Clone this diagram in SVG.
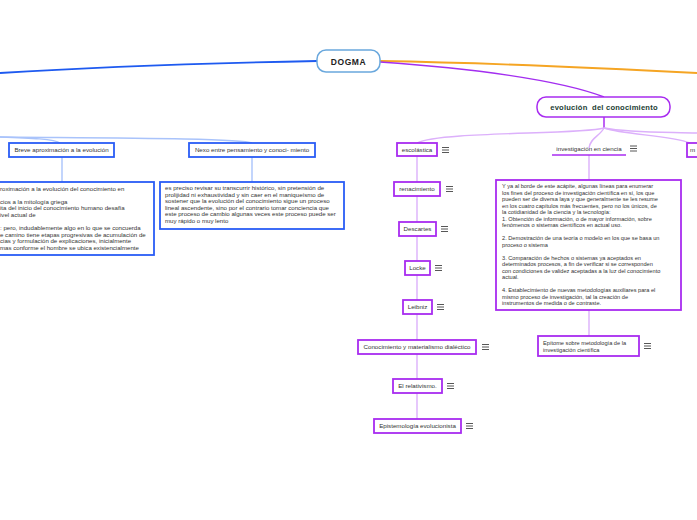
<svg xmlns="http://www.w3.org/2000/svg" width="697" height="520" viewBox="0 0 697 520">
<defs>
<style>
text{font-family:"Liberation Sans",Arial,sans-serif;fill:#333}
.lbl{font-size:6.2px;text-anchor:middle}
.body{font-size:5.65px}
.bbody{font-size:6.1px}
.pbox{fill:#fff;stroke:#a82cf0;stroke-width:1.8}
.bbox{fill:#fff;stroke:#2a5cf5;stroke-width:1.8}
.chain{fill:none;stroke:#dcb0fb;stroke-width:1.4}
.bchain{fill:none;stroke:#a9c3fb;stroke-width:1.4}
</style>
<g id="menu">
<line x1="0" y1="0" x2="7" y2="0" stroke="#444" stroke-width="0.9"/>
<line x1="0" y1="2.5" x2="7" y2="2.5" stroke="#444" stroke-width="0.9"/>
<line x1="0" y1="5" x2="7" y2="5" stroke="#444" stroke-width="0.9"/>
</g>
</defs>
<rect width="697" height="520" fill="#fff"/>

<g id="connectors">
<path d="M317,61 C220,63 80,68 0,73" fill="none" stroke="#1e5af0" stroke-width="1.8"/>
<path d="M380,61 C500,63 640,70 697,73" fill="none" stroke="#f5a524" stroke-width="1.8"/>
<path d="M380,62 C470,68 560,80 604,97" fill="none" stroke="#a32ef0" stroke-width="1.5"/>
<path d="M604,117 L604,129" fill="none" stroke="#a82cf0" stroke-width="1.5"/>
<path d="M604,128 C580,135 440,131 417,143" class="chain"/>
<path d="M604,128 C600,136 590,138 589,148" class="chain"/>
<path d="M604,128 C625,135 670,135 690,143" class="chain"/>
<path d="M604,128 C630,133 670,132 697,133" class="chain"/>
<path d="M417,156 L417,419" class="chain"/>
<path d="M589,155 L589,336" class="chain"/>
<path d="M0,137 C30,138 55,139 60,143" class="bchain"/>
<path d="M0,137 C100,138 240,138 252,143" class="bchain"/>
<path d="M62,157 L62,182" class="bchain"/>
<path d="M252,157 L252,182" class="bchain"/>
</g>

<g id="dogma">
<rect x="317" y="50" width="63" height="22" rx="9" fill="#fff" stroke="#6aa8dd" stroke-width="1.5"/>
<text x="348.5" y="64.5" text-anchor="middle" font-size="8.5" font-weight="bold" letter-spacing="0.6" style="fill:#222">DOGMA</text>
</g>

<g id="evolucion">
<rect x="537" y="97" width="133" height="20" rx="9" fill="#fff" stroke="#a82cf0" stroke-width="1.5"/>
<text x="604" y="109.7" text-anchor="middle" font-size="7.6" font-weight="bold" letter-spacing="0.2" xml:space="preserve" style="fill:#1c3d33;white-space:pre">evolución  del conocimiento</text>
</g>

<g id="escolastica">
<rect class="pbox" x="397" y="143" width="40" height="13"/>
<text class="lbl" x="417" y="151.8">escolástica</text>
<use href="#menu" x="442" y="147.5"/>
</g>

<g id="investigacion">
<text class="lbl" x="589" y="151">investigación en ciencia</text>
<line x1="552" y1="155" x2="626" y2="155" stroke="#a82cf0" stroke-width="1.5"/>
<use href="#menu" x="630" y="146"/>
</g>

<g id="m-node">
<rect class="pbox" x="687" y="143" width="15" height="14"/>
<text x="690" y="152" font-size="6.2">m</text>
</g>

<g id="renacimiento">
<rect class="pbox" x="394" y="182" width="46" height="14"/>
<text class="lbl" x="417" y="191.2">renacimiento</text>
<use href="#menu" x="446" y="186.5"/>
</g>

<g id="descartes">
<rect class="pbox" x="399" y="222" width="37" height="14"/>
<text class="lbl" x="417.5" y="231.2">Descartes</text>
<use href="#menu" x="441" y="226.5"/>
</g>

<g id="locke">
<rect class="pbox" x="405" y="261" width="25" height="14"/>
<text class="lbl" x="417.5" y="270.2">Locke</text>
<use href="#menu" x="435" y="265.5"/>
</g>

<g id="leibniz">
<rect class="pbox" x="403" y="300" width="29" height="14"/>
<text class="lbl" x="417.5" y="309.2">Leibniz</text>
<use href="#menu" x="437" y="304.5"/>
</g>

<g id="materialismo">
<rect class="pbox" x="358" y="340" width="118" height="14"/>
<text class="lbl" x="417" y="349.2">Conocimiento y materialismo dialéctico</text>
<use href="#menu" x="482" y="344.5"/>
</g>

<g id="relativismo">
<rect class="pbox" x="393" y="379" width="49" height="14"/>
<text class="lbl" x="417.5" y="388.2">El relativismo.</text>
<use href="#menu" x="447" y="383.5"/>
</g>

<g id="epistemologia">
<rect class="pbox" x="374" y="419" width="87" height="14"/>
<text class="lbl" x="417.5" y="428.2">Epistemología evolucionista</text>
<use href="#menu" x="466" y="423.5"/>
</g>

<g id="investigacion-texto">
<rect class="pbox" x="496" y="180" width="185" height="130"/>
<text class="body">
<tspan x="502" y="188">Y ya al borde de este acápite, algunas líneas para enumerar</tspan>
<tspan x="502" y="194.5">los fines del proceso de investigación científica en sí, los que</tspan>
<tspan x="502" y="201">pueden ser de diversa laya y que generalmente se les resume</tspan>
<tspan x="502" y="207.5">en los cuatro capítulos más frecuentes, pero no los únicos, de</tspan>
<tspan x="502" y="214">la cotidianidad de la ciencia y la tecnología:</tspan>
<tspan x="502" y="220.5">1. Obtención de información, o de mayor información, sobre</tspan>
<tspan x="502" y="227">fenómenos o sistemas científicos en actual uso.</tspan>
<tspan x="502" y="240">2. Demostración de una teoría o modelo en los que se basa un</tspan>
<tspan x="502" y="246.5">proceso o sistema</tspan>
<tspan x="502" y="259.5">3. Comparación de hechos o sistemas ya aceptados en</tspan>
<tspan x="502" y="266">determinados procesos, a fin de verificar si se corresponden</tspan>
<tspan x="502" y="272.5">con condiciones de validez aceptadas a la luz del conocimiento</tspan>
<tspan x="502" y="279">actual.</tspan>
<tspan x="502" y="292">4. Establecimiento de nuevas metodologías auxiliares para el</tspan>
<tspan x="502" y="298.5">mismo proceso de investigación, tal la creación de</tspan>
<tspan x="502" y="305">instrumentos de medida o de contraste.</tspan>
</text>
</g>

<g id="epitome">
<rect class="pbox" x="538" y="336" width="101" height="20"/>
<text class="body">
<tspan x="543" y="344.5">Epítome sobre metodología de la</tspan>
<tspan x="543" y="351.5">investigación científica</tspan>
</text>
<use href="#menu" x="644" y="343.5"/>
</g>

<g id="breve">
<rect class="bbox" x="9" y="143" width="105" height="14"/>
<text class="lbl" x="61.5" y="152.2">Breve aproximación a la evolución</text>
</g>

<g id="nexo">
<rect class="bbox" x="189" y="143" width="126" height="14"/>
<text class="lbl" x="252" y="152.2">Nexo entre pensamiento y conoci- miento</text>
</g>

<g id="breve-texto">
<rect class="bbox" x="-5" y="182" width="159" height="73"/>
<text class="bbody">
<tspan x="0" y="190.5">roximación a la evolución del conocimiento en</tspan>
<tspan x="0" y="203.5">cios a la mitología griega</tspan>
<tspan x="0" y="210">ita del inicio del conocimiento humano desafía</tspan>
<tspan x="0" y="216.5">ivel actual de</tspan>
<tspan x="0" y="230">: pero, indudablemente algo en lo que se concuerda</tspan>
<tspan x="0" y="236.5">e camino tiene etapas progresivas de acumulación de</tspan>
<tspan x="0" y="243">cias y formulación de explicaciones, inicialmente</tspan>
<tspan x="0" y="249.5">mas conforme el hombre se ubica existencialmente</tspan>
</text>
</g>

<g id="nexo-texto">
<rect class="bbox" x="160" y="182" width="184" height="47"/>
<text class="bbody">
<tspan x="165" y="190">es preciso revisar su transcurrir histórico, sin pretensión de</tspan>
<tspan x="165" y="196.5">prolijidad ni exhaustividad y sin caer en el maniqueísmo de</tspan>
<tspan x="165" y="203">sostener que la evolución del conocimiento sigue un proceso</tspan>
<tspan x="165" y="209.5">lineal ascendente, sino por el contrario tomar conciencia que</tspan>
<tspan x="165" y="216">este proceso de cambio algunas veces este proceso puede ser</tspan>
<tspan x="165" y="222.5">muy rápido o muy lento</tspan>
</text>
</g>
</svg>
